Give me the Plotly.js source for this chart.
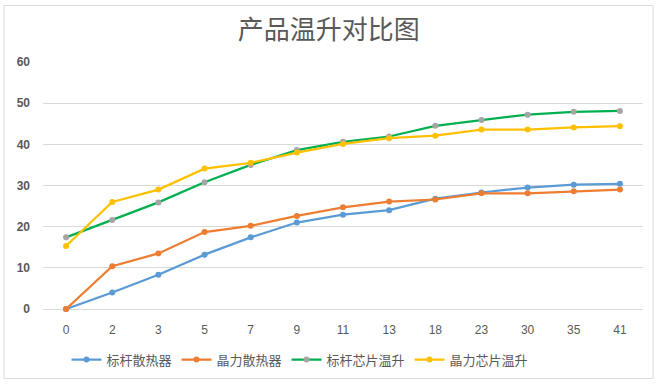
<!DOCTYPE html>
<html>
<head>
<meta charset="utf-8">
<script src="https://cdn.plot.ly/plotly-3.0.1.min.js"></script>
<style>
html,body{margin:0;padding:0;background:#fff;}
#chart{width:667px;height:387px;}
</style>
</head>
<body>
<div id="chart"></div>
<script>
var categories = ['0','2','3','5','7','9','11','13','18','23','30','35','41'];
var benchmarkSink = [0, 4.0, 8.3, 13.2, 17.4, 21.0, 22.9, 24.0, 26.8, 28.3, 29.5, 30.2, 30.4];
var jingliSink    = [0, 10.4, 13.5, 18.7, 20.2, 22.6, 24.7, 26.1, 26.6, 28.1, 28.1, 28.6, 29.0];
var benchmarkChip = [17.4, 21.6, 25.9, 30.8, 35.0, 38.6, 40.6, 41.9, 44.5, 45.9, 47.2, 47.9, 48.1];
var jingliChip    = [15.3, 26.0, 29.0, 34.1, 35.5, 38.0, 40.1, 41.5, 42.1, 43.6, 43.6, 44.1, 44.4];
var seriesNames = ['标杆散热器', '晶力散热器', '标杆芯片温升', '晶力芯片温升'];
var yTicks = [0, 10, 20, 30, 40, 50, 60];

function tr(name, y, lineColor, markerColor) {
  return {
    type: 'scatter', mode: 'lines+markers', name: name,
    x: categories, y: y,
    line: {color: lineColor, width: 2.25},
    marker: {color: markerColor, size: 6, symbol: 'circle'},
    cliponaxis: false
  };
}

var data = [
  tr(seriesNames[0], benchmarkSink, '#5B9BD5', '#5B9BD5'),
  tr(seriesNames[1], jingliSink, '#ED7D31', '#ED7D31'),
  tr(seriesNames[2], benchmarkChip, '#00B050', '#A5A5A5'),
  tr(seriesNames[3], jingliChip, '#FFC000', '#FFC000')
];

var layout = {
  width: 667, height: 387,
  margin: {l: 43, r: 24, t: 62, b: 76},
  paper_bgcolor: '#fff', plot_bgcolor: '#fff',
  font: {family: '"Noto Sans CJK SC", "Liberation Sans", sans-serif', color: '#595959'},
  title: {
    text: '产品温升对比图',
    font: {size: 26, color: '#595959', family: '"Noto Sans CJK SC", serif'},
    x: 0.493, xanchor: 'center', y: 1 - 30/387, yanchor: 'middle', yref: 'container'
  },
  xaxis: {
    type: 'category', range: [-0.5, 12.5],
    showgrid: false, zeroline: false, showline: false,
    ticks: '', tickfont: {size: 12, color: '#595959', family: '"Liberation Sans", sans-serif'},
    ticklabelstandoff: 12, automargin: false
  },
  yaxis: {
    range: [0, 60], tickvals: yTicks, ticktext: yTicks.map(String),
    showgrid: true, gridcolor: '#D9D9D9', gridwidth: 1,
    zeroline: true, zerolinecolor: '#D9D9D9', zerolinewidth: 1,
    showline: false, ticks: '',
    tickfont: {size: 12, color: '#595959', family: '"Liberation Sans", sans-serif', weight: 'bold'},
    ticklabelstandoff: 12, automargin: false
  },
  showlegend: true,
  legend: {
    orientation: 'h', x: (300-43)/600, xanchor: 'center', y: -(362-311)/249, yanchor: 'middle',
    font: {size: 13, color: '#595959'}, itemwidth: 30
  },
  shapes: [{
    type: 'rect', xref: 'paper', yref: 'paper',
    x0: (4-43)/600, x1: (653-43)/600, y0: -(381-311)/249, y1: 1 + (62-5)/249,
    line: {color: '#D9D9D9', width: 1}, fillcolor: 'rgba(0,0,0,0)', layer: 'below'
  }]
};

Plotly.newPlot('chart', data, layout, {displayModeBar: false, staticPlot: true});
</script>
</body>
</html>
